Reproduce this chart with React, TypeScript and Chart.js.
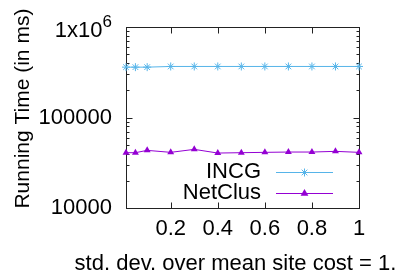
import React, { useEffect, useRef } from 'react';
import { Chart, registerables } from 'chart.js';

Chart.register(...registerables);

const xValues = [0.01, 0.05, 0.1, 0.2, 0.3, 0.4, 0.5, 0.6, 0.7, 0.8, 0.9, 1.0];
const incgValues = [361500, 361500, 361500, 367900, 367900, 367900, 367900, 367900, 367900, 367900, 367900, 367900];
const netclusValues = [40900, 40900, 43400, 41260, 44530, 40530, 40900, 41260, 41590, 41590, 42320, 41260];
const seriesNames = ['INCG', 'NetClus'];
const seriesColors = ['#56b4e9', '#9400d3'];
const xTickValues = [0.2, 0.4, 0.6, 0.8, 1];
const yTickValues = [10000, 100000, 1000000];
const yMinorTicks = [20000, 30000, 40000, 50000, 60000, 70000, 80000, 90000, 200000, 300000, 400000, 500000, 600000, 700000, 800000, 900000];
const xTitle = 'std. dev. over mean site cost = 1.';
const yTitle = 'Running Time (in ms)';

const FONT = '"Liberation Sans", Arial, Helvetica, sans-serif';

function drawStar(ctx: CanvasRenderingContext2D, x: number, y: number, r: number) {
  ctx.beginPath();
  ctx.moveTo(x - r, y); ctx.lineTo(x + r, y);
  ctx.moveTo(x, y - r); ctx.lineTo(x, y + r);
  const d = r * Math.SQRT1_2;
  ctx.moveTo(x - d, y - d); ctx.lineTo(x + d, y + d);
  ctx.moveTo(x - d, y + d); ctx.lineTo(x + d, y - d);
  ctx.stroke();
}

function drawTriangle(ctx: CanvasRenderingContext2D, x: number, y: number, r: number) {
  const rad = -Math.PI / 2;
  ctx.beginPath();
  for (let i = 0; i < 3; i++) {
    const a = rad + (i * 2 * Math.PI) / 3;
    const px = x + Math.cos(a) * r;
    const py = y + Math.sin(a) * r;
    if (i === 0) ctx.moveTo(px, py); else ctx.lineTo(px, py);
  }
  ctx.closePath();
  ctx.fill();
}

const framePlugin = {
  id: 'gnuFrame',
  beforeDatasetsDraw(chart: any) {
    const { ctx, chartArea: a, scales } = chart;
    const xs = scales.x, ys = scales.y;
    ctx.save();
    ctx.strokeStyle = '#222';
    ctx.lineWidth = 1;
    ctx.strokeRect(Math.round(a.left) + 0.5, Math.round(a.top) + 0.5, Math.round(a.right - a.left), Math.round(a.bottom - a.top));
    ctx.beginPath();
    const L = Math.round(a.left) + 0.5, R = Math.round(a.right) + 0.5;
    const T = Math.round(a.top) + 0.5, B = Math.round(a.bottom) + 0.5;
    for (const v of yTickValues) {
      const p = Math.round(ys.getPixelForValue(v)) + 0.5;
      ctx.moveTo(L, p); ctx.lineTo(L + 6, p);
      ctx.moveTo(R, p); ctx.lineTo(R - 6, p);
    }
    for (const v of yMinorTicks) {
      const p = Math.round(ys.getPixelForValue(v)) + 0.5;
      ctx.moveTo(L, p); ctx.lineTo(L + 3, p);
      ctx.moveTo(R, p); ctx.lineTo(R - 3, p);
    }
    for (const v of xTickValues) {
      const p = Math.round(xs.getPixelForValue(v)) + 0.5;
      ctx.moveTo(p, B); ctx.lineTo(p, B - 6);
      ctx.moveTo(p, T); ctx.lineTo(p, T + 6);
    }
    ctx.stroke();
    ctx.restore();
  },
  afterDraw(chart: any) {
    const { ctx, chartArea: a, scales } = chart;
    const ys = scales.y;
    ctx.save();
    ctx.fillStyle = '#000';
    // 1x10^6 label
    const top = ys.getPixelForValue(1000000);
    const labelRight = a.left - 14;
    ctx.font = `17px ${FONT}`;
    ctx.textAlign = 'right';
    ctx.textBaseline = 'alphabetic';
    const supW = ctx.measureText('6').width;
    ctx.fillText('6', labelRight, top);
    ctx.font = `22px ${FONT}`;
    ctx.fillText('1x10', labelRight - supW, top + 10);

    // axis titles
    ctx.textAlign = 'center';
    ctx.textBaseline = 'middle';
    ctx.font = `22px ${FONT}`;
    ctx.fillText(xTitle, 235.5, 264);
    ctx.font = `21px ${FONT}`;
    ctx.save();
    ctx.translate(23, (a.top + a.bottom) / 2 - 9);
    ctx.rotate(-Math.PI / 2);
    ctx.fillText(yTitle, 0, 0);
    ctx.restore();

    // legend
    const rows = [172, 193];
    ctx.font = `22px ${FONT}`;
    ctx.textAlign = 'right';
    for (let i = 0; i < seriesNames.length; i++) {
      const y = rows[i];
      ctx.fillStyle = '#000';
      ctx.fillText(seriesNames[i], 261, y);
      ctx.strokeStyle = seriesColors[i];
      ctx.fillStyle = seriesColors[i];
      ctx.lineWidth = 1;
      ctx.beginPath();
      ctx.moveTo(276, y + 0.5); ctx.lineTo(333, y + 0.5);
      ctx.stroke();
      if (i === 0) drawStar(ctx, 304.5, y + 0.5, 4);
      else drawTriangle(ctx, 304.5, y + 0.5, 4.5);
    }
    ctx.restore();
  },
};

export default function App() {
  const ref = useRef<HTMLCanvasElement | null>(null);
  useEffect(() => {
    document.body.style.margin = '0';
    if (!ref.current) return;
    const chart = new Chart(ref.current, {
      type: 'line',
      data: {
        datasets: [
          {
            label: seriesNames[0],
            data: xValues.map((x, i) => ({ x, y: incgValues[i] })),
            borderColor: seriesColors[0],
            backgroundColor: seriesColors[0],
            borderWidth: 1,
            pointStyle: 'star',
            pointRadius: 4,
            pointBorderWidth: 1,
            pointBorderColor: seriesColors[0],
            pointBackgroundColor: seriesColors[0],
            tension: 0,
            clip: false,
          },
          {
            label: seriesNames[1],
            data: xValues.map((x, i) => ({ x, y: netclusValues[i] })),
            borderColor: seriesColors[1],
            backgroundColor: seriesColors[1],
            borderWidth: 1,
            pointStyle: 'triangle',
            pointRadius: 4,
            pointBorderWidth: 0,
            pointBackgroundColor: seriesColors[1],
            tension: 0,
            clip: false,
          },
        ],
      } as any,
      options: {
        responsive: false,
        animation: false,
        events: [],
        layout: { padding: { top: 27, right: 40, left: 0, bottom: 0 } },
        plugins: { legend: { display: false }, tooltip: { enabled: false }, title: { display: false } },
        scales: {
          x: {
            type: 'linear',
            min: 0.01,
            max: 1,
            afterBuildTicks: (s: any) => { s.ticks = xTickValues.map((v) => ({ value: v })); },
            afterFit: (s: any) => { s.height = 71; },
            grid: { display: false, drawTicks: false },
            border: { display: false },
            ticks: {
              padding: 8,
              color: '#000',
              maxRotation: 0,
              autoSkip: false,
              font: { family: FONT, size: 22 },
              callback: (v: any) => String(Math.round(Number(v) * 10) / 10),
            },
          },
          y: {
            type: 'logarithmic',
            min: 10000,
            max: 1000000,
            afterBuildTicks: (s: any) => { s.ticks = yTickValues.map((v) => ({ value: v })); },
            afterFit: (s: any) => { s.width = 126; },
            grid: { display: false, drawTicks: false },
            border: { display: false },
            ticks: {
              padding: 14,
              color: '#000',
              autoSkip: false,
              font: { family: FONT, size: 22 },
              callback: (v: any) => (Number(v) >= 1000000 ? '' : String(v)),
            },
          },
        },
      } as any,
      plugins: [framePlugin],
    });
    return () => chart.destroy();
  }, []);
  return (
    <div style={{ position: 'absolute', left: 0, top: 0, width: 399, height: 279, background: '#fff' }}>
      <canvas ref={ref} width={399} height={279} style={{ width: 399, height: 279, display: 'block' }} />
    </div>
  );
}
